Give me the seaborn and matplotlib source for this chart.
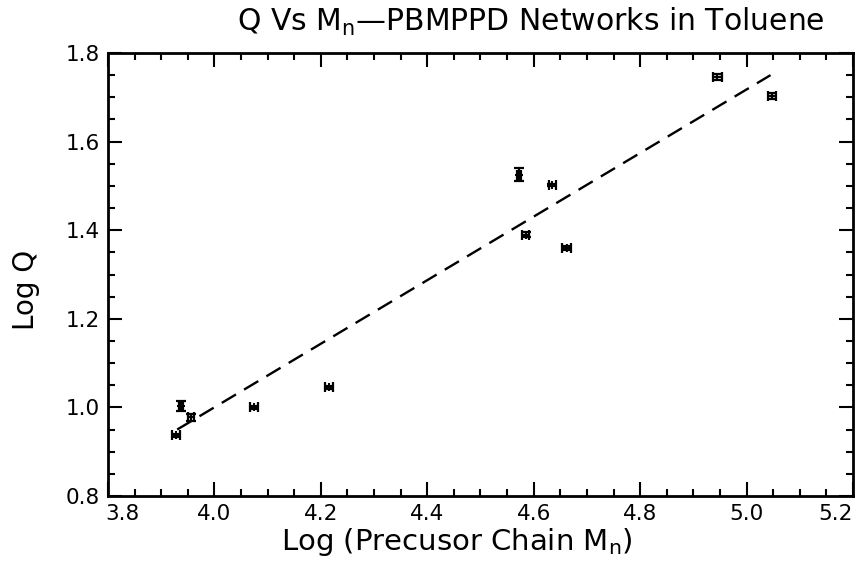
import numpy as np
import pandas as pd
import matplotlib
matplotlib.use("Agg")
import matplotlib.pyplot as plt
import matplotlib.transforms as mtransforms
from matplotlib.ticker import MultipleLocator, FixedLocator
import seaborn as sns

# ---- data ----
log_mn = [3.928, 3.937, 3.956, 4.074, 4.215, 4.572, 4.585, 4.635, 4.662, 4.945, 5.048]
log_q = [0.937, 1.003, 0.978, 1.000, 1.045, 1.525, 1.390, 1.502, 1.360, 1.746, 1.703]
x_err = [0.007, 0.004, 0.006, 0.008, 0.007, 0.004, 0.007, 0.007, 0.008, 0.008, 0.008]
y_err = [0.004, 0.012, 0.008, 0.004, 0.004, 0.015, 0.006, 0.003, 0.004, 0.006, 0.006]
fit_x = [3.930, 5.045]
fit_y = [0.950, 1.750]

x_ticks = [3.8, 4.0, 4.2, 4.4, 4.6, 4.8, 5.0, 5.2]
x_tick_labels = ["3.8", "4.0", "4.2", "4.4", "4.6", "4.8", "5.0", "5.2"]
y_ticks = [0.8, 1.0, 1.2, 1.4, 1.6, 1.8]
y_tick_labels = ["0.8", "1.0", "1.2", "1.4", "1.6", "1.8"]

title = "Q Vs M$_\\mathregular{n}$\u2014PBMPPD Networks in Toluene"
x_label = "Log (Precusor Chain M$_\\mathregular{n}$)"
y_label = "Log Q"

df = pd.DataFrame({"x": log_mn, "y": log_q})
fit_df = pd.DataFrame({"x": fit_x, "y": fit_y})

sns.set_theme(style="ticks")
plt.rcParams["font.family"] = ["DejaVu Sans"]
plt.rcParams["mathtext.fontset"] = "dejavusans"

fig = plt.figure(figsize=(8.62, 5.62), dpi=100)
ax = fig.add_axes([108 / 862, 1 - 496 / 562, (853 - 108) / 862, (496 - 53) / 562])

sns.lineplot(data=fit_df, x="x", y="y", ax=ax, color="black", lw=1.7,
             dashes=False, legend=False)
ax.lines[-1].set_dashes([7, 4])
ax.errorbar(log_mn, log_q, xerr=x_err, yerr=y_err, fmt="none",
            ecolor="black", elinewidth=1.6, capsize=3.5, capthick=1.6)
sns.scatterplot(data=df, x="x", y="y", ax=ax, marker="+", s=30,
                color="black", linewidth=1.4, legend=False)

ax.set_xlim(3.8, 5.2)
ax.set_ylim(0.8, 1.8)
ax.xaxis.set_major_locator(FixedLocator(x_ticks))
ax.yaxis.set_major_locator(FixedLocator(y_ticks))
ax.set_xticklabels(x_tick_labels)
ax.set_yticklabels(y_tick_labels)
ax.xaxis.set_minor_locator(MultipleLocator(0.05))
ax.yaxis.set_minor_locator(MultipleLocator(0.05))

ax.tick_params(which="both", direction="in", top=True, right=True,
               width=1.5, color="black", labelsize=15.5, labelcolor="black")
ax.tick_params(which="major", length=10, pad=6)
ax.tick_params(which="minor", length=5)
for s in ax.spines.values():
    s.set_linewidth(2)
    s.set_color("black")

ax.set_xlabel(x_label, fontsize=21, color="black")
ax.set_ylabel(y_label, fontsize=20, color="black")
ax.xaxis.label.set_va("center")
ax.xaxis.set_label_coords((457 - 108) / 745, (496 - 542) / 443)
ax.yaxis.label.set_va("center")
ax.yaxis.label.set_ha("center")
ax.yaxis.set_label_coords((26 - 108) / 745, (496 - 290) / 443)

fig.text(531 / 862, 1 - 22 / 562, title, ha="center", va="center",
         fontsize=21.5, color="black")

# shift the end tick labels inward as in the reference
labels = ax.get_xticklabels()
labels[0].set_transform(labels[0].get_transform() +
                        mtransforms.ScaledTranslation(14 / 100, 0, fig.dpi_scale_trans))
labels[-1].set_transform(labels[-1].get_transform() +
                         mtransforms.ScaledTranslation(-17 / 100, 0, fig.dpi_scale_trans))

fig.savefig("out.png", dpi=100, facecolor="white")
